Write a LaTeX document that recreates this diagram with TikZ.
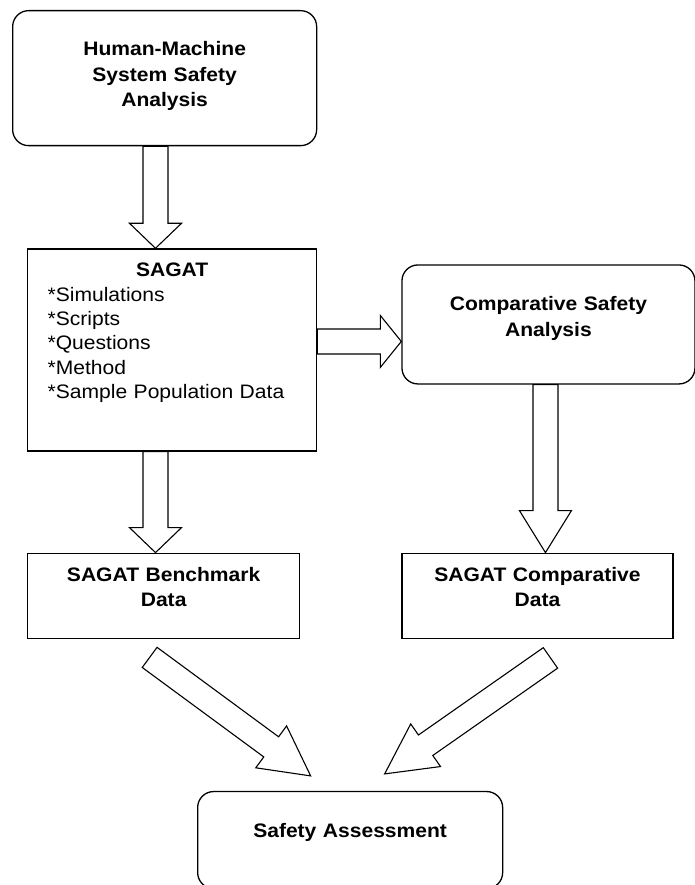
\documentclass[tikz,border=0pt]{standalone}
\usepackage{fontspec}
\setmainfont{Liberation Sans}[FakeStretch=1.08]
\usetikzlibrary{positioning,calc}

\newcommand{\shafthalf}{12.5pt}
\newcommand{\winghalf}{26pt}
% hollow block arrow: #1 tail, #2 tip, #3 head length
\newcommand{\fatarrow}[3]{%
  \draw[bigarrow] ($#1!\shafthalf!90:#2$)
    -- ($#2!#3!#1!\shafthalf!-90:#1$)
    -- ($#2!#3!#1!\winghalf!-90:#1$)
    -- #2
    -- ($#2!#3!#1!\winghalf!90:#1$)
    -- ($#2!#3!#1!\shafthalf!90:#1$)
    -- ($#1!\shafthalf!-90:#2$) -- cycle;}

\tikzset{
  block/.style={draw, line width=1.3pt, inner xsep=0pt, inner ysep=0pt, align=center,
    font=\fontsize{19.5}{25.5}\selectfont\bfseries},
  roundblock/.style={block, rounded corners=16pt},
  bigarrow/.style={draw, line width=1.1pt, fill=white, line join=miter}
}

\begin{document}
\begin{tikzpicture}[x=1pt,y=-1pt]
  \useasboundingbox (0,0) rectangle (695,885);

  \node[roundblock, anchor=north west, text width=304pt, text height=45pt, text depth=90pt]
    (hm) at (12,10) {Human-Machine\\System Safety\\Analysis};
  \node[block, align=left, inner xsep=20pt, text width=249pt, text height=28pt, text depth=174pt,
    font=\fontsize{19.5}{24.3}\selectfont] (sagat) [below right=102pt and 15pt of hm.south west]
    {\makebox[\linewidth]{\bfseries SAGAT}\\{}*Simulations\\{}*Scripts\\{}*Questions\\{}*Method\\{}*Sample Population Data};
  \node[roundblock, text width=293pt, text height=46pt, text depth=73pt]
    (comp) [below right=16pt and 84pt of sagat.north east] {Comparative Safety\\Analysis};
  \node[block, text width=272pt, text height=28pt, text depth=57pt]
    (bench) [below right=101pt and 0pt of sagat.south west] {SAGAT Benchmark\\Data};
  \node[block, text width=271pt, text height=28pt, text depth=57pt]
    (compdata) [below right=168pt and 0pt of comp.south west] {SAGAT Comparative\\Data};
  \node[roundblock, text width=305pt, text height=46pt, text depth=51pt]
    (safety) [below right=152pt and 170pt of bench.south west] {Safety Assessment};

  % arrow ends
  \coordinate (a1s) at ($(hm.south west)!0.47!(hm.south east)$);
  \coordinate (a1e) at (a1s |- sagat.north);
  \coordinate (a2s) at (a1s |- sagat.south);
  \coordinate (a2e) at (a1s |- bench.north);
  \coordinate (a3s) at ($(sagat.east)+(0,-8.5)$);
  \coordinate (a3e) at (a3s -| comp.west);
  \coordinate (a4s) at ($(comp.south)+(-3,0)$);
  \coordinate (a4e) at (a4s |- compdata.north);
  \coordinate (a5s) at ($(bench.south)+(-14,18.5)$);
  \coordinate (a5e) at ($(safety.north)+(-39.5,-15)$);
  \coordinate (a6s) at ($(compdata.south)+(13,19)$);
  \coordinate (a6e) at ($(safety.north)+(34.5,-17)$);

  \fatarrow{(a1s)}{(a1e)}{25pt}
  \fatarrow{(a2s)}{(a2e)}{25pt}
  \fatarrow{(a3s)}{(a3e)}{21pt}
  \fatarrow{(a4s)}{(a4e)}{42pt}
  \fatarrow{(a5s)}{(a5e)}{49pt}
  \fatarrow{(a6s)}{(a6e)}{50pt}
\end{tikzpicture}
\end{document}
